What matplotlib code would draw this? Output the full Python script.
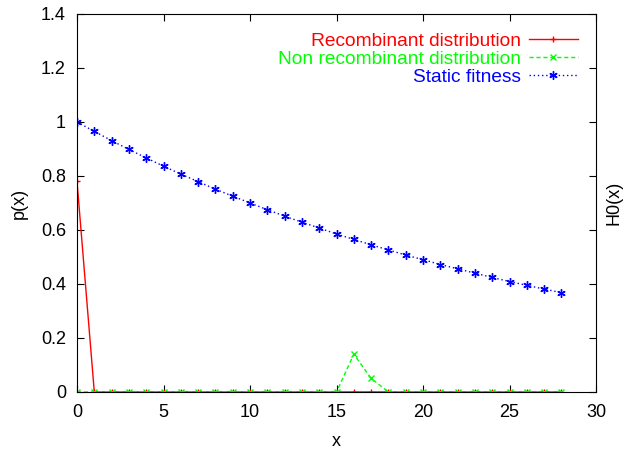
import matplotlib
matplotlib.use("Agg")
import matplotlib.pyplot as plt

# Данные
x = list(range(29))
recombinant = [0.78] + [0.0] * 28
non_recombinant = [0.0] * 16 + [0.14, 0.05] + [0.0] * 11
static_fitness = [1.0, 0.965, 0.931, 0.898, 0.867, 0.836, 0.807, 0.779, 0.751,
                  0.725, 0.700, 0.675, 0.651, 0.629, 0.607, 0.585, 0.565, 0.545,
                  0.526, 0.507, 0.490, 0.472, 0.456, 0.440, 0.424, 0.409, 0.395,
                  0.381, 0.368]

plt.rcParams['font.family'] = ['Liberation Sans', 'DejaVu Sans']

fig = plt.figure(figsize=(6.23, 4.5), dpi=100)
ax = fig.add_axes([0.1236, 0.129, 0.8331, 0.840])

ax.plot(x, recombinant, color='#ff0000', linestyle='-', linewidth=1,
        marker='+', markersize=5, label='Recombinant distribution')
ax.plot(x, non_recombinant, color='#00ff00', linestyle=(0, (3, 2)), linewidth=1,
        marker='x', markersize=4, label='Non recombinant distribution')
ax.plot(x, static_fitness, color='#0000ff', linestyle=(0, (1, 2)), linewidth=1,
        marker=(6, 2, 0), markersize=6, label='Static fitness')

ax.set_xlim(0, 30)
ax.set_ylim(0, 1.4)
ax.set_xticks(range(0, 31, 5))
ax.set_yticks([0, 0.2, 0.4, 0.6, 0.8, 1, 1.2, 1.4])
ax.set_yticklabels(['0', '0.2', '0.4', '0.6', '0.8', '1', '1.2', '1.4'])
ax.tick_params(direction='in', top=True, right=True, labelsize=13, length=5)
ax.tick_params(axis='x', pad=9)
ax.tick_params(axis='y', pad=8)
ax.set_xlabel('x', fontsize=13, labelpad=8)
ax.set_ylabel('p(x)', fontsize=13, labelpad=9)

leg = ax.legend(loc='upper right', frameon=False, markerfirst=False,
                fontsize=13.8, handlelength=2.56, borderaxespad=0.55,
                labelspacing=0.03, handletextpad=0.43)
for text, line in zip(leg.get_texts(), leg.get_lines()):
    text.set_color(line.get_color())
    text.set_ha('right')

fig.text(0.985, 0.549, 'H0(x)', rotation=90, fontsize=13, ha='center', va='center')

plt.savefig('out.png', dpi=100)
